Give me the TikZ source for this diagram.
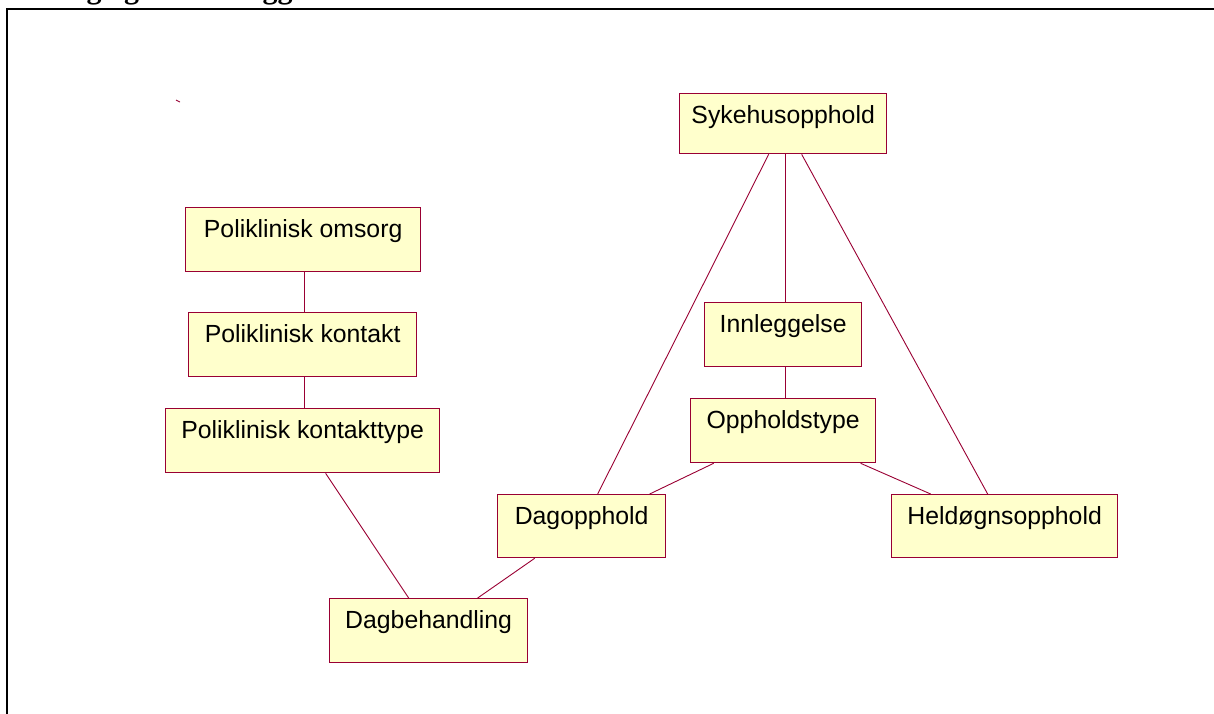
\documentclass[tikz,border=0pt]{standalone}
\usepackage{fontspec}
\setmainfont{Liberation Sans}
\newfontfamily\headfont{Liberation Serif}
\definecolor{boxfill}{HTML}{FFFFCC}
\definecolor{boxline}{HTML}{990033}
\tikzset{
  ent/.style={draw=boxline, fill=boxfill, line width=1.3pt, inner sep=0pt,
    anchor=north west, text height=30pt,
    font=\fontsize{24.8}{28}\selectfont},
  conn/.style={draw=boxline, line width=0.9pt},
  frame/.style={draw=black, line width=2.2pt}
}
\begin{document}
\begin{tikzpicture}[x=1pt, y=-1pt]
  \clip (0,0) rectangle (1214,713);
  % page heading (runs off the top) and the figure frame
  \node[anchor=base west, inner sep=0pt, font=\headfont\bfseries\fontsize{30}{34}\selectfont]
    (head) at (6.5,-2) {omsorg og ved innleggelse};
  \draw[frame] (7,9) rectangle (1240,740);
  \draw[conn] (176,100) -- (180,102);

  % entities
  \node[ent, minimum width=207pt, text depth=30pt] (syk)  at (679,93)  {Sykehusopphold};
  \node[ent, minimum width=157pt, text depth=34pt] (inn)  at (704,302) {Innleggelse};
  \node[ent, minimum width=185pt, text depth=34pt] (opp)  at (690,398) {Oppholdstype};
  \node[ent, minimum width=168pt, text depth=33pt] (dago) at (497,494) {Dagopphold};
  \node[ent, minimum width=226pt, text depth=33pt] (held) at (891,494) {Heldøgnsopphold};
  \node[ent, minimum width=235pt, text depth=34pt] (polo) at (185,207) {Poliklinisk omsorg};
  \node[ent, minimum width=228pt, text depth=34pt] (polk) at (188,312) {Poliklinisk kontakt};
  \node[ent, minimum width=274pt, text depth=34pt] (polt) at (165,408) {Poliklinisk kontakttype};
  \node[ent, minimum width=198pt, text depth=34pt] (dagb) at (329,598) {Dagbehandling};

  % relations
  \draw[conn] ([xshift=-14.5pt]syk.south) -- ([xshift=16pt]dago.north);
  \draw[conn] ([xshift=2.5pt]syk.south) -- ([xshift=2.5pt]inn.north);
  \draw[conn] ([xshift=18.5pt]syk.south) -- ([xshift=-17pt]held.north);
  \draw[conn] ([xshift=2.5pt]inn.south) -- ([xshift=2.5pt]opp.north);
  \draw[conn] ([xshift=-69.5pt]opp.south) -- ([xshift=68pt]dago.north);
  \draw[conn] ([xshift=77.5pt]opp.south) -- ([xshift=-74pt]held.north);
  \draw[conn] ([xshift=1.5pt]polo.south) -- ([xshift=2pt]polk.north);
  \draw[conn] ([xshift=2pt]polk.south) -- ([xshift=2pt]polt.north);
  \draw[conn] ([xshift=23pt]polt.south) -- ([xshift=-20pt]dagb.north);
  \draw[conn] ([xshift=49pt]dagb.north) -- ([xshift=-47pt]dago.south);
\end{tikzpicture}
\end{document}
